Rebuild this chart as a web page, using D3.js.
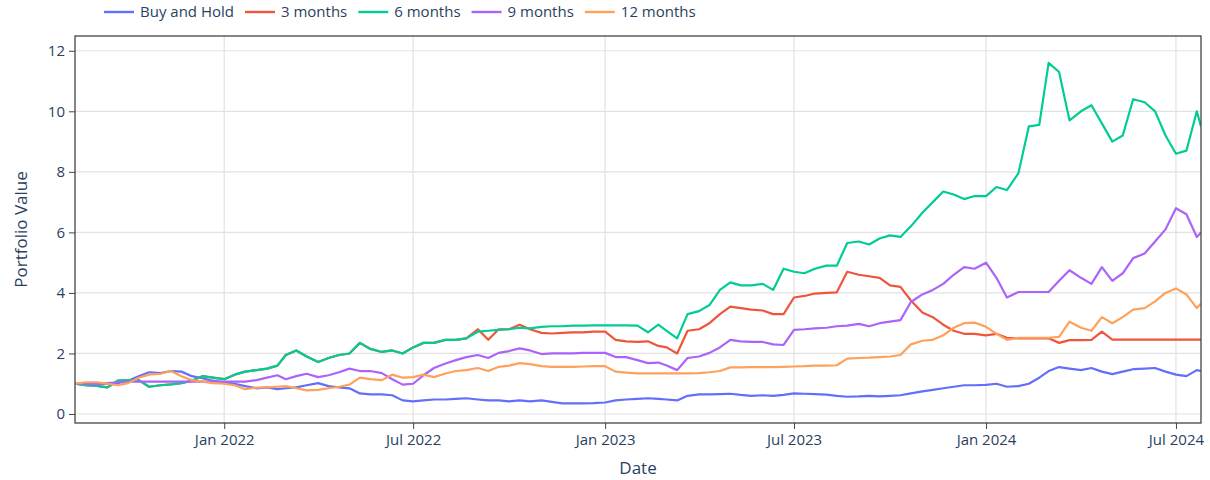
<!DOCTYPE html>
<html>
<head>
<meta charset="utf-8">
<script src="https://cdn.jsdelivr.net/npm/d3@7"></script>
<style>
	body {margin:0; background:#ffffff;}
	text {font-family:"Open Sans", sans-serif; fill:#2a3f5f;}
</style>
</head>
<body>
<div id="chart"></div>
<script>

// ---- data (~10 day steps) ----
var dates = [
	"2021-08-11","2021-08-21",
	"2021-09-01","2021-09-11","2021-09-21","2021-10-01","2021-10-11","2021-10-21",
	"2021-11-01","2021-11-11","2021-11-21","2021-12-01","2021-12-11","2021-12-21",
	"2022-01-01","2022-01-11","2022-01-21","2022-02-01","2022-02-11","2022-02-21",
	"2022-03-01","2022-03-11","2022-03-21","2022-04-01","2022-04-11","2022-04-21",
	"2022-05-01","2022-05-11","2022-05-21","2022-06-01","2022-06-11","2022-06-21",
	"2022-07-01","2022-07-11","2022-07-21","2022-08-01","2022-08-11","2022-08-21",
	"2022-09-01","2022-09-11","2022-09-21","2022-10-01","2022-10-11","2022-10-21",
	"2022-11-01","2022-11-11","2022-11-21","2022-12-01","2022-12-11","2022-12-21",
	"2023-01-01","2023-01-11","2023-01-21","2023-02-01","2023-02-11","2023-02-21",
	"2023-03-01","2023-03-11","2023-03-21","2023-04-01","2023-04-11","2023-04-21",
	"2023-05-01","2023-05-11","2023-05-21","2023-06-01","2023-06-11","2023-06-21",
	"2023-07-01","2023-07-11","2023-07-21","2023-08-01","2023-08-11","2023-08-21",
	"2023-09-01","2023-09-11","2023-09-21","2023-10-01","2023-10-11","2023-10-21",
	"2023-11-01","2023-11-11","2023-11-21","2023-12-01","2023-12-11","2023-12-21",
	"2024-01-01","2024-01-11","2024-01-21","2024-02-01","2024-02-11","2024-02-21",
	"2024-03-01","2024-03-11","2024-03-21","2024-04-01","2024-04-11","2024-04-21",
	"2024-05-01","2024-05-11","2024-05-21","2024-06-01","2024-06-11","2024-06-21",
	"2024-07-01","2024-07-11","2024-07-21","2024-07-25"
];

var buyHold = [
	1.0,1.0,0.98,1.0,1.02,1.1,1.25,1.38,1.35,1.42,
	1.4,1.25,1.18,1.1,1.05,1.0,0.92,0.85,0.88,0.82,
	0.85,0.88,0.95,1.02,0.92,0.88,0.85,0.68,0.65,0.65,
	0.62,0.45,0.42,0.45,0.48,0.48,0.5,0.52,0.48,0.45,
	0.45,0.42,0.45,0.42,0.45,0.4,0.35,0.35,0.35,0.36,
	0.38,0.45,0.48,0.5,0.52,0.5,0.48,0.45,0.6,0.65,
	0.65,0.66,0.67,0.63,0.6,0.62,0.6,0.63,0.68,0.67,
	0.66,0.64,0.6,0.57,0.58,0.6,0.58,0.6,0.62,0.68,
	0.75,0.8,0.85,0.9,0.95,0.95,0.96,1.0,0.9,0.92,
	1.0,1.2,1.42,1.55,1.5,1.45,1.52,1.4,1.32,1.4,
	1.48,1.5,1.52,1.4,1.3,1.25,1.45,1.42
];

var months3 = [
	1.0,0.95,0.93,0.88,1.1,1.12,1.12,0.9,0.95,0.98,
	1.02,1.1,1.25,1.2,1.15,1.3,1.4,1.45,1.5,1.6,
	1.95,2.1,1.9,1.72,1.85,1.95,2.0,2.35,2.15,2.05,
	2.1,2.0,2.2,2.35,2.35,2.45,2.45,2.5,2.8,2.45,
	2.8,2.8,2.95,2.8,2.68,2.66,2.68,2.7,2.7,2.72,
	2.72,2.45,2.4,2.38,2.4,2.25,2.2,2.0,2.75,2.8,
	3.0,3.3,3.55,3.5,3.45,3.42,3.3,3.3,3.85,3.9,
	3.98,4.0,4.02,4.7,4.6,4.55,4.5,4.25,4.2,3.75,
	3.35,3.2,2.95,2.75,2.65,2.65,2.6,2.65,2.52,2.5,
	2.5,2.5,2.5,2.35,2.44,2.44,2.45,2.72,2.46,2.46,
	2.46,2.46,2.46,2.46,2.46,2.46,2.46,2.46
];

var months6 = [
	1.0,0.95,0.93,0.88,1.1,1.12,1.12,0.9,0.95,0.98,
	1.02,1.1,1.25,1.2,1.15,1.3,1.4,1.45,1.5,1.6,
	1.95,2.1,1.9,1.72,1.85,1.95,2.0,2.35,2.15,2.05,
	2.1,2.0,2.2,2.35,2.35,2.45,2.45,2.5,2.72,2.75,
	2.78,2.8,2.85,2.83,2.88,2.9,2.9,2.92,2.92,2.93,
	2.93,2.93,2.93,2.92,2.7,2.95,2.75,2.5,3.3,3.4,
	3.6,4.1,4.35,4.25,4.25,4.3,4.1,4.8,4.7,4.65,
	4.8,4.9,4.9,5.65,5.7,5.6,5.8,5.9,5.85,6.2,
	6.65,7.0,7.35,7.25,7.1,7.2,7.2,7.5,7.4,7.95,
	9.5,9.55,11.6,11.3,9.7,10.0,10.2,9.6,9.0,9.2,
	10.4,10.3,10.0,9.2,8.6,8.7,10.0,9.5
];

var months9 = [
	1.0,1.0,0.98,1.02,1.05,1.07,1.07,1.07,1.07,1.07,
	1.07,1.07,1.07,1.07,1.07,1.07,1.07,1.12,1.2,1.28,
	1.15,1.25,1.33,1.22,1.28,1.38,1.5,1.42,1.42,1.35,
	1.15,0.97,1.0,1.28,1.52,1.67,1.78,1.88,1.95,1.85,
	2.02,2.08,2.17,2.1,1.98,2.0,2.0,2.0,2.02,2.02,
	2.02,1.88,1.88,1.78,1.68,1.7,1.6,1.45,1.85,1.9,
	2.02,2.2,2.45,2.4,2.38,2.38,2.3,2.28,2.78,2.8,
	2.83,2.85,2.9,2.92,2.98,2.9,3.0,3.05,3.1,3.7,
	3.95,4.1,4.3,4.6,4.85,4.8,5.0,4.5,3.85,4.03,
	4.03,4.03,4.03,4.4,4.75,4.5,4.3,4.85,4.4,4.65,
	5.15,5.3,5.7,6.1,6.8,6.6,5.85,6.0
];

var months12 = [
	1.0,1.05,1.05,1.0,0.95,1.02,1.2,1.3,1.33,1.42,
	1.25,1.12,1.07,1.02,1.0,0.95,0.82,0.87,0.88,0.9,
	0.92,0.85,0.78,0.8,0.85,0.9,0.97,1.2,1.15,1.12,
	1.3,1.2,1.22,1.3,1.22,1.34,1.42,1.45,1.52,1.42,
	1.56,1.6,1.68,1.65,1.58,1.56,1.56,1.56,1.57,1.58,
	1.58,1.4,1.37,1.34,1.34,1.34,1.34,1.34,1.34,1.35,
	1.38,1.42,1.54,1.54,1.55,1.55,1.55,1.56,1.57,1.58,
	1.6,1.6,1.61,1.83,1.85,1.86,1.88,1.9,1.95,2.3,
	2.42,2.45,2.6,2.85,3.0,3.02,2.88,2.65,2.45,2.52,
	2.52,2.52,2.52,2.55,3.05,2.85,2.75,3.2,3.0,3.2,
	3.45,3.5,3.72,4.0,4.15,3.95,3.5,3.65
];

var seriesNames  = ["Buy and Hold","3 months","6 months","9 months","12 months"];
var seriesValues = [buyHold, months3, months6, months9, months12];
var seriesColors = ["#636efa","#ef553b","#00cc96","#ab63fa","#ffa15a"];
var yTicks = [0,2,4,6,8,10,12];

// ---- layout ----
var W = 1210, H = 480;
var margin = {top:36, right:9, bottom:57, left:75};
var width  = W - margin.left - margin.right,
	height = H - margin.top - margin.bottom;

var parse = d3.timeParse("%Y-%m-%d");
var xDates = dates.map(parse);

var x = d3.scaleTime()
	.domain([xDates[0], xDates[xDates.length-1]])
	.range([0, width]);
var y = d3.scaleLinear()
	.domain([-0.297, 12.488])
	.range([height, 0]);

var svg = d3.select('#chart').append('svg')
	.attr('width', W)
	.attr('height', H)
	.style('background','#ffffff');

var g = svg.append('g')
	.attr('transform','translate('+margin.left+','+margin.top+')');

//---gridlines---
g.append('g')
	.selectAll('line').data(yTicks).enter().append('line')
	.attr('x1',0).attr('x2',width)
	.attr('y1',function(d){return y(d);})
	.attr('y2',function(d){return y(d);})
	.style('stroke','#e2e2e2')
	.style('stroke-width',1.2);

var xTicks = x.ticks(d3.timeMonth.every(6));
g.append('g')
	.selectAll('line').data(xTicks).enter().append('line')
	.attr('x1',function(d){return x(d);})
	.attr('x2',function(d){return x(d);})
	.attr('y1',0).attr('y2',height)
	.style('stroke','#e2e2e2')
	.style('stroke-width',1.2);

//---lines---
svg.append('defs').append('clipPath').attr('id','clip')
	.append('rect').attr('width',width).attr('height',height);

var line = d3.line()
	.x(function(d,i){return x(xDates[i]);})
	.y(function(d){return y(d);});

g.append('g').attr('clip-path','url(#clip)')
	.selectAll('path').data(seriesValues).enter().append('path')
	.attr('d', line)
	.style('fill','none')
	.style('stroke',function(d,i){return seriesColors[i];})
	.style('stroke-width',2.2)
	.style('stroke-linejoin','round');

//---axes---
var xAxis = d3.axisBottom(x)
	.tickValues(xTicks)
	.tickFormat(d3.timeFormat("%b %Y"))
	.tickSize(6)
	.tickPadding(5);
var yAxis = d3.axisLeft(y)
	.tickValues(yTicks)
	.tickSize(6)
	.tickPadding(4);

var gx = g.append('g')
	.attr('transform','translate(0,'+height+')')
	.call(xAxis);
var gy = g.append('g').call(yAxis);

[gx, gy].forEach(function(a){
	a.select('.domain').remove();
	a.selectAll('line').style('stroke','#444');
	a.selectAll('text')
		.style('font-size','15px')
		.style('fill','#2a3f5f')
		.style('font-family','"Open Sans", sans-serif');
});

// frame
g.append('rect')
	.attr('width',width)
	.attr('height',height)
	.style('fill','none')
	.style('stroke','#444')
	.style('stroke-width',1.3);

//---axis titles---
svg.append('text')
	.attr('x', margin.left + width/2)
	.attr('y', 474)
	.attr('text-anchor','middle')
	.style('font-size','17px')
	.text('Date');

svg.append('text')
	.attr('transform','translate(27,'+(margin.top+height/2)+') rotate(-90)')
	.attr('text-anchor','middle')
	.style('font-size','17px')
	.text('Portfolio Value');

//---legend---
var lx = 104;
seriesNames.forEach(function(name,i){
	svg.append('line')
		.attr('x1',lx).attr('x2',lx+30)
		.attr('y1',12).attr('y2',12)
		.style('stroke',seriesColors[i])
		.style('stroke-width',2.4);
	var t = svg.append('text')
		.attr('x',lx+36)
		.attr('y',17)
		.style('font-size','15px')
		.text(name);
	lx += 36 + t.node().getComputedTextLength() + 11;
});

</script>
</body>
</html>
